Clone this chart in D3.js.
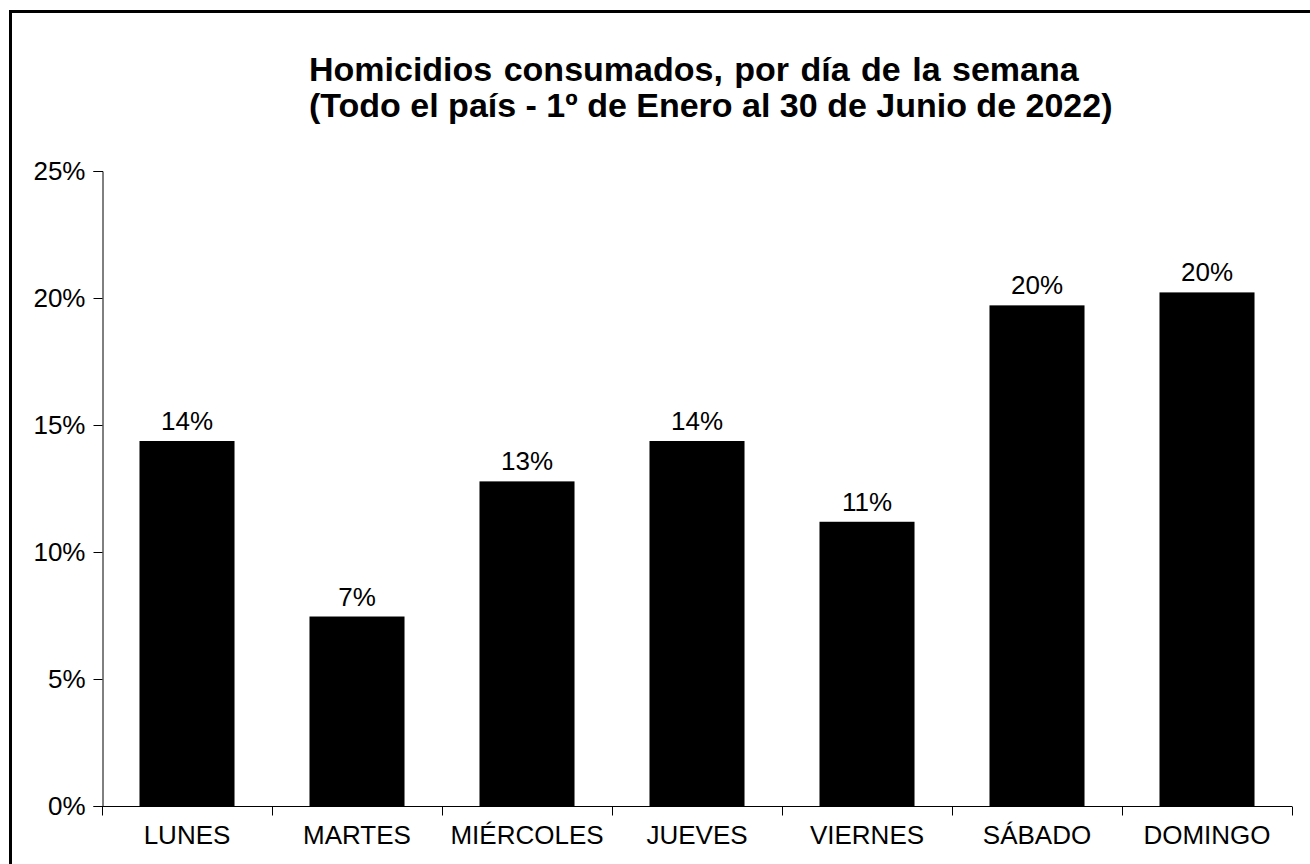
<!DOCTYPE html>
<html><head><meta charset="utf-8">
<script src="https://cdn.jsdelivr.net/npm/d3@7"></script>
<style>body{margin:0;background:#fff}svg{display:block}</style>
</head><body>
<script>
const categories = ["LUNES","MARTES","MIÉRCOLES","JUEVES","VIERNES","SÁBADO","DOMINGO"];
const values = [14.37, 7.46, 12.78, 14.37, 11.19, 19.71, 20.22];
const valueLabels = ["14%","7%","13%","14%","11%","20%","20%"];
const yTicks = [0,5,10,15,20,25];
const titleLines = ["Homicidios consumados, por día de la semana","(Todo el país - 1º de Enero al 30 de Junio de 2022)"];

const W = 1310, H = 864;
const svg = d3.select("body").append("svg").attr("width", W).attr("height", H);
svg.append("rect").attr("x",10.5).attr("y",11.5).attr("width",1310).attr("height",870)
  .attr("fill","#fff").attr("stroke","#000").attr("stroke-width",3);

const x = d3.scaleBand().domain(categories).range([102,1292]).paddingInner(0.441).paddingOuter(0.2205);
const y = d3.scaleLinear().domain([0,25]).range([806,171]);
const font = "Liberation Sans, Arial, sans-serif";

svg.append("g").selectAll("text").data(titleLines).join("text")
  .attr("x",309).attr("y",(d,i)=>81+i*36).attr("text-anchor","start")
  .attr("font-family",font).attr("font-weight","bold").attr("font-size",34)
  .attr("word-spacing",(d,i)=>i===0?"2px":"0px").text(d=>d);

svg.append("g").selectAll("rect").data(values).join("rect")
  .attr("x",(d,i)=>x(categories[i])).attr("width",x.bandwidth())
  .attr("y",d=>y(d)).attr("height",d=>y(0)-y(d)).attr("fill","#000");

svg.append("g").selectAll("text").data(values).join("text")
  .attr("x",(d,i)=>x(categories[i])+x.bandwidth()/2).attr("y",d=>y(d)-11)
  .attr("text-anchor","middle").attr("font-family",font).attr("font-size",26)
  .text((d,i)=>valueLabels[i]);

const yAxis = svg.append("g").attr("transform","translate(102.5,0)")
  .call(d3.axisLeft(y).tickValues(yTicks).tickFormat(d=>d+"%").tickSize(9).tickPadding(8));
yAxis.selectAll("text").attr("font-family",font).attr("font-size",26).attr("fill","#000");

const xAxis = svg.append("g").attr("transform","translate(0,806.5)")
  .call(d3.axisBottom(x).tickSize(0).tickPadding(19).tickSizeOuter(0));
xAxis.selectAll("text").attr("font-family",font).attr("font-size",26).attr("fill","#000");
xAxis.select(".domain").attr("d","M102,0H1292");
const step = x.step();
const bounds = d3.range(categories.length+1).map(i => 102 + i*step);
xAxis.selectAll(".btick").data(bounds).join("line").attr("class","btick")
  .attr("x1",d=>d+0.5).attr("x2",d=>d+0.5).attr("y1",0).attr("y2",9).attr("stroke","#000");
</script>
</body></html>
